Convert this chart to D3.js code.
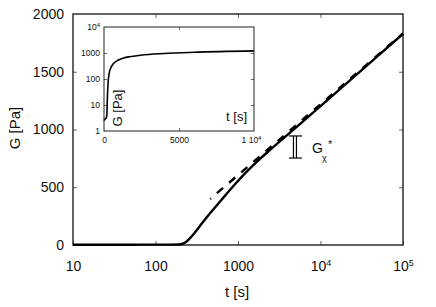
<!DOCTYPE html>
<html>
<head>
<meta charset="utf-8">
<script src="https://cdn.jsdelivr.net/npm/d3@7"></script>
<style>
  body { margin: 0; background: #fff; }
  text { font-family: "Liberation Sans", Arial, sans-serif; fill: #111; }
</style>
</head>
<body>
<svg width="436" height="307"></svg>
<script>
// G(t) (same curve in the main plot and the inset)
var timeS = [10, 20, 50, 100, 150, 190, 215, 234, 277, 346, 458, 622, 869, 1216, 1700, 2443, 4000, 6000, 10000, 20000, 50000, 100000];
var modulusPa = [2.5, 2.6, 2.8, 3, 3.2, 4, 12, 26, 78, 165, 274, 386, 506, 620, 722, 823, 955, 1064, 1202, 1391, 1639, 1828];

// dashed straight line (log t)
var asymT = [460, 100000];
var asymG = [398, 1832];

// G_chi* bracket
var chiT = 4900;
var chiG = [753, 944];

var xTicks = [10, 100, 1000, 10000, 100000];
var yTicks = [0, 500, 1000, 1500, 2000];
var insetXTicks = [0, 5000, 10000];
var insetYTicks = [1, 10, 100, 1000, 10000];

var svg = d3.select("svg");

var x = d3.scaleLog().domain([10, 1e5]).range([73, 403]);
var y = d3.scaleLinear().domain([0, 2000]).range([245, 14]);

var ix = d3.scaleLinear().domain([0, 10000]).range([104, 254]);
var iy = d3.scaleLog().domain([1, 10000]).range([131, 27]);

var curve = timeS.map(function(t, i) { return {t: t, g: modulusPa[i]}; });
var asym = asymT.map(function(t, i) { return {t: t, g: asymG[i]}; });

var plain = function(d) { return String(d); };

// text with a superscript exponent for powers of ten
function powLabel(sel, v, supSize, prefix) {
  sel.text(null);
  var e = Math.round(Math.log10(v));
  sel.append("tspan").text((prefix || "") + "10");
  sel.append("tspan").attr("dy", "-0.55em").attr("font-size", supSize).text(e);
}

function styleTicks(g) {
  g.select(".domain").remove();
  g.selectAll(".tick line").attr("stroke", "#666").attr("stroke-width", 1);
}

// ---- main plot ----
var main = svg.append("g");

var xAxis = main.append("g")
  .attr("transform", "translate(0,245)")
  .call(d3.axisBottom(x).tickValues(xTicks).tickFormat(plain)
    .tickSizeInner(-4).tickSizeOuter(0).tickPadding(16));
xAxis.selectAll(".tick text")
  .attr("font-size", 14)
  .each(function(d) {
    if (d >= 10000) powLabel(d3.select(this), d, 9);
  });
styleTicks(xAxis);

var topAxis = main.append("g")
  .attr("transform", "translate(0,14)")
  .call(d3.axisTop(x).tickValues(xTicks.slice(1, 4)).tickSizeInner(-4).tickSizeOuter(0).tickFormat(""));
styleTicks(topAxis);

var yAxis = main.append("g")
  .attr("transform", "translate(73,0)")
  .call(d3.axisLeft(y).tickValues(yTicks).tickFormat(plain)
    .tickSizeInner(-4).tickSizeOuter(0).tickPadding(9));
yAxis.selectAll(".tick text").attr("font-size", 14);
yAxis.selectAll(".tick line").filter(function(d) { return d === 0 || d === 2000; }).remove();
styleTicks(yAxis);

var rightAxis = main.append("g")
  .attr("transform", "translate(403,0)")
  .call(d3.axisRight(y).tickValues(yTicks.slice(1, 4)).tickSizeInner(-4).tickSizeOuter(0).tickFormat(""));
styleTicks(rightAxis);

main.append("rect")
  .attr("x", 73).attr("y", 14)
  .attr("width", 403 - 73).attr("height", 245 - 14)
  .attr("fill", "none").attr("stroke", "#222").attr("stroke-width", 1.4);

main.append("text")
  .attr("transform", "translate(20,128) rotate(-90)")
  .attr("text-anchor", "middle")
  .attr("font-size", 15)
  .text("G [Pa]");

main.append("text")
  .attr("x", 237).attr("y", 297)
  .attr("text-anchor", "middle")
  .attr("font-size", 15)
  .text("t [s]");

main.append("path")
  .datum(asym)
  .attr("fill", "none")
  .attr("stroke", "#000")
  .attr("stroke-width", 2.4)
  .attr("stroke-dasharray", "8,8")
  .attr("stroke-dashoffset", 7)
  .attr("d", d3.line().x(function(d) { return x(d.t); }).y(function(d) { return y(d.g); }));

main.append("path")
  .datum(curve)
  .attr("fill", "none")
  .attr("stroke", "#000")
  .attr("stroke-width", 2.4)
  .attr("d", d3.line().curve(d3.curveMonotoneX)
    .x(function(d) { return x(d.t); }).y(function(d) { return y(d.g); }));

// G_chi* bracket and label
var bx = x(chiT);
var br = main.append("g").attr("stroke", "#000").attr("stroke-width", 1.2);
br.append("line").attr("x1", bx - 6).attr("x2", bx + 7).attr("y1", y(chiG[1])).attr("y2", y(chiG[1]));
br.append("line").attr("x1", bx - 6).attr("x2", bx + 7).attr("y1", y(chiG[0])).attr("y2", y(chiG[0]));
br.append("line").attr("x1", bx - 1.5).attr("x2", bx - 1.5).attr("y1", y(chiG[1])).attr("y2", y(chiG[0]));
br.append("line").attr("x1", bx + 1.5).attr("x2", bx + 1.5).attr("y1", y(chiG[1])).attr("y2", y(chiG[0]));

var ly = y((chiG[0] + chiG[1]) / 2);
main.append("text").attr("x", bx + 17).attr("y", ly + 6).attr("font-size", 14).text("G");
main.append("text").attr("x", bx + 27).attr("y", ly + 14).attr("font-size", 9).text("χ");
main.append("text").attr("x", bx + 33).attr("y", ly + 1).attr("font-size", 11).text("*");

// ---- inset ----
var inset = svg.append("g");

inset.append("rect")
  .attr("x", 104).attr("y", 27)
  .attr("width", 254 - 104).attr("height", 131 - 27)
  .attr("fill", "#fff");

var ixAxis = inset.append("g")
  .attr("transform", "translate(0,131)")
  .call(d3.axisBottom(ix).tickValues(insetXTicks).tickFormat(plain)
    .tickSizeInner(-3).tickSizeOuter(0).tickPadding(6));
ixAxis.selectAll(".tick text")
  .attr("font-size", 8.5)
  .each(function(d) {
    if (d === 10000) powLabel(d3.select(this).attr("dx", -3), d, 6, "1 ");
  });
ixAxis.selectAll(".tick line").filter(function(d) { return d !== 5000; }).remove();
styleTicks(ixAxis);

var itAxis = inset.append("g")
  .attr("transform", "translate(0,27)")
  .call(d3.axisTop(ix).tickValues([5000]).tickSizeInner(-3).tickSizeOuter(0).tickFormat(""));
styleTicks(itAxis);

var iyAxis = inset.append("g")
  .attr("transform", "translate(104,0)")
  .call(d3.axisLeft(iy).tickValues(insetYTicks).tickFormat(plain)
    .tickSizeInner(-3).tickSizeOuter(0).tickPadding(4));
iyAxis.selectAll(".tick text")
  .attr("font-size", 8.5)
  .each(function(d) {
    if (d === 10000) powLabel(d3.select(this), d, 6);
  });
iyAxis.selectAll(".tick line").filter(function(d) { return d === 1 || d === 10000; }).remove();
styleTicks(iyAxis);

var irAxis = inset.append("g")
  .attr("transform", "translate(254,0)")
  .call(d3.axisRight(iy).tickValues(insetYTicks.slice(1, 4)).tickSizeInner(-3).tickSizeOuter(0).tickFormat(""));
styleTicks(irAxis);

inset.append("path")
  .datum(curve.filter(function(d) { return d.t <= 10000; }))
  .attr("fill", "none")
  .attr("stroke", "#000")
  .attr("stroke-width", 1.6)
  .attr("d", d3.line().curve(d3.curveMonotoneX)
    .x(function(d) { return ix(d.t); }).y(function(d) { return iy(d.g); }));

inset.append("rect")
  .attr("x", 104).attr("y", 27)
  .attr("width", 254 - 104).attr("height", 131 - 27)
  .attr("fill", "none").attr("stroke", "#222").attr("stroke-width", 1);

inset.append("text")
  .attr("transform", "translate(122,108) rotate(-90)")
  .attr("text-anchor", "middle")
  .attr("font-size", 13)
  .text("G [Pa]");

inset.append("text")
  .attr("x", 247).attr("y", 121)
  .attr("text-anchor", "end")
  .attr("font-size", 13)
  .text("t [s]");
</script>
</body>
</html>
